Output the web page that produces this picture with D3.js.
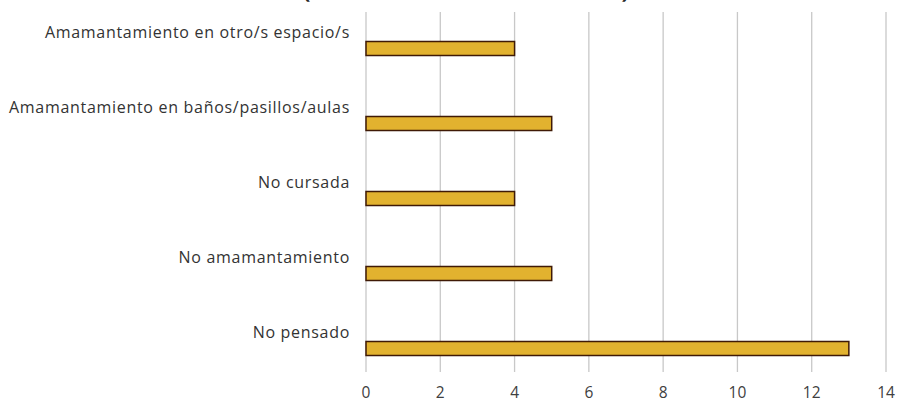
<!DOCTYPE html>
<html><head><meta charset="utf-8">
<script src="https://cdn.jsdelivr.net/npm/d3@7"></script>
<style>html,body{margin:0;padding:0;background:#fff;}svg{display:block;}</style>
</head><body>
<svg id="c" width="900" height="403"></svg>
<script>
const categories = ["Amamantamiento en otro/s espacio/s","Amamantamiento en baños/pasillos/aulas","No cursada","No amamantamiento","No pensado"];
const values = [4,5,4,5,13];
const xTicks = [0,2,4,6,8,10,12,14];
const title = "(total de menciones)";

const svg = d3.select("#c");
const x = d3.scaleLinear().domain([0,14]).range([366,886]);
const y = d3.scaleBand().domain(categories).range([11,386]).paddingInner(0).paddingOuter(0);
const font = "'Open Sans', sans-serif";

// clipped title at top
svg.append("text").attr("x",466).attr("y",-2).attr("text-anchor","middle")
  .attr("font-family",font).attr("font-weight","bold").attr("font-size",22).attr("fill","#262626")
  .attr("textLength",326).text(title);

// gridlines
svg.append("g").selectAll("line").data(xTicks).join("line")
  .attr("x1",d=>x(d)).attr("x2",d=>x(d)).attr("y1",12).attr("y2",372)
  .attr("stroke","#c8c8c8").attr("stroke-width",1.3);

// tick labels
svg.append("g").selectAll("text").data(xTicks).join("text")
  .attr("x",d=>x(d)).attr("y",398).attr("text-anchor","middle")
  .attr("font-family",font).attr("font-size",15.5).attr("fill","#404040").text(d=>d);

// bars
const bh = 14;
svg.append("g").selectAll("rect").data(categories).join("rect")
  .attr("x",x(0)).attr("y",d=>y(d)+y.bandwidth()/2-bh/2)
  .attr("width",(d,i)=>x(values[i])-x(0)).attr("height",bh)
  .attr("fill","#e2b22f").attr("stroke","#3f1a06").attr("stroke-width",1.5);

// category labels
svg.append("g").selectAll("text").data(categories).join("text")
  .attr("x",350).attr("y",d=>y(d)+y.bandwidth()/2-10.5).attr("text-anchor","end")
  .attr("font-family",font).attr("font-size",16).attr("letter-spacing",0.7)
  .attr("fill","#333").text(d=>d);
</script>
</body></html>
